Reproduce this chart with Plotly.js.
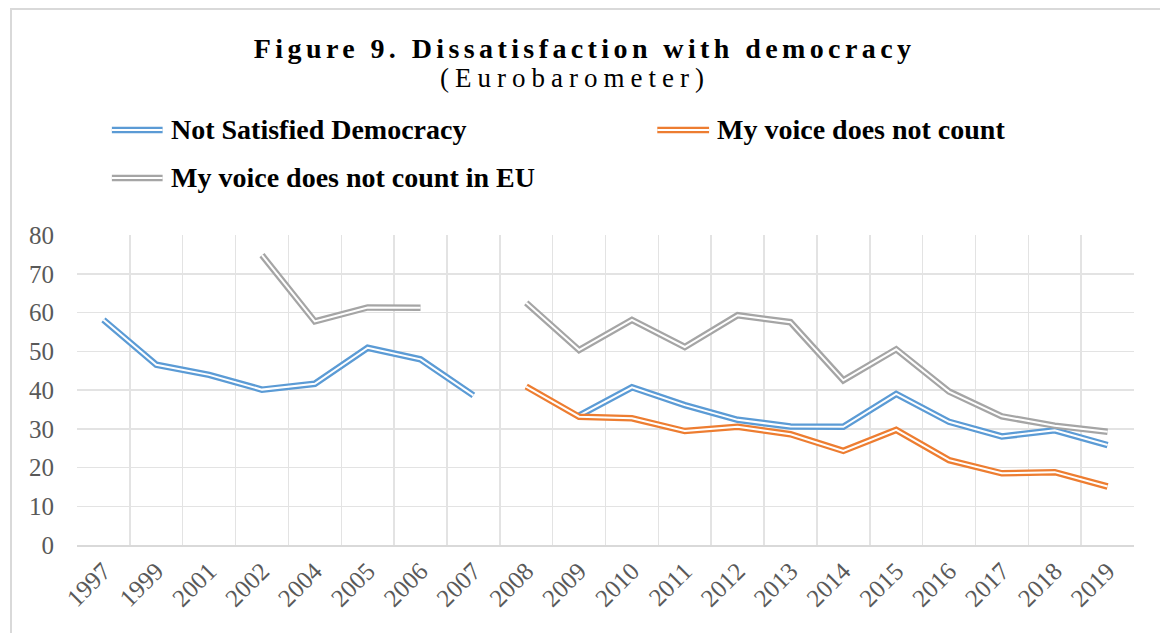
<!DOCTYPE html>
<html>
<head>
<meta charset="utf-8">
<script src="https://cdn.plot.ly/plotly-3.0.1.min.js"></script>
<style>
  html, body { margin: 0; padding: 0; background: #fff; }
  #wrap { position: relative; width: 1160px; height: 633px; overflow: hidden; }
  #frame { position: absolute; left: 10px; top: 8px; width: 1200px; height: 700px;
           border-left: 2px solid #d9d9d9; border-top: 2px solid #d9d9d9; pointer-events: none; z-index: 5; }
  #chart { position: absolute; left: 0; top: 0; width: 1160px; height: 633px; }
  .gtitle { letter-spacing: 4.4px; }
  .annotation[data-index="3"] text { letter-spacing: 6px; }
</style>
</head>
<body>
<div id="wrap">
  <div id="chart"></div>
  <div id="frame"></div>
</div>
<script>
// ---- data ----
const years = ['1997','1999','2001','2002','2004','2005','2006','2007','2008','2009',
               '2010','2011','2012','2013','2014','2015','2016','2017','2018','2019'];
const notSatisfied = [58.1, 46.5, 43.9, 40.1, 41.6, 50.9, 47.9, 38.6, null, 33.4,
                      40.7, 36.1, 32.3, 30.6, 30.5, 39.0, 31.8, 28.0, 29.6, 25.8];
const voiceNotCount = [null, null, null, null, null, null, null, null, 40.9, 33.1,
                       32.7, 29.4, 30.5, 28.6, 24.3, 29.7, 21.9, 18.5, 18.8, 15.1];
const voiceNotCountEU = [null, null, null, 74.8, 57.7, 61.3, 61.2, null, 62.5, 50.3,
                         58.1, 51.1, 59.3, 57.5, 42.5, 50.5, 39.6, 33.2, 30.8, 29.2];
const seriesNames = ['Not Satisfied Democracy', 'My voice does not count', 'My voice does not count in EU'];
const seriesColors = ['#5B9BD5', '#ED7D31', '#A5A5A5'];
const seriesValues = [notSatisfied, voiceNotCount, voiceNotCountEU];
const titleText = 'Figure 9. Dissatisfaction with democracy';
const subtitleText = '(Eurobarometer)';

const FONT = 'Liberation Serif, Times New Roman, serif';

// ---- traces: thick coloured line + thin white core = double line ----
const traces = [];
seriesValues.forEach((vals, i) => {
  traces.push({
    x: years, y: vals, type: 'scatter', mode: 'lines', name: seriesNames[i],
    line: { color: seriesColors[i], width: 6.5 }, connectgaps: false,
    showlegend: false, hoverinfo: 'skip'
  });
  traces.push({
    x: years, y: vals, type: 'scatter', mode: 'lines', name: seriesNames[i],
    line: { color: '#ffffff', width: 2 }, connectgaps: false,
    showlegend: false, hoverinfo: 'skip'
  });
});

// ---- manual legend (double-line icons) ----
const legendPos = [
  { x0: 0.033, x1: 0.081, tx: 0.087, y: 1.339 },
  { x0: 0.549, x1: 0.598, tx: 0.604, y: 1.339 },
  { x0: 0.033, x1: 0.081, tx: 0.087, y: 1.184 }
];
const shapes = [];
const annotations = [];
legendPos.forEach((p, i) => {
  shapes.push({ type: 'line', xref: 'paper', yref: 'paper', x0: p.x0, x1: p.x1, y0: p.y, y1: p.y,
                line: { color: seriesColors[i], width: 6.5 } });
  shapes.push({ type: 'line', xref: 'paper', yref: 'paper', x0: p.x0, x1: p.x1, y0: p.y, y1: p.y,
                line: { color: '#ffffff', width: 2 } });
  annotations.push({ xref: 'paper', yref: 'paper', x: p.tx, y: p.y, xanchor: 'left', yanchor: 'middle',
                     showarrow: false, text: '<b>' + seriesNames[i] + '</b>',
                     font: { family: FONT, size: 28, color: '#000000' } });
});
// subtitle
annotations.push({ xref: 'paper', yref: 'paper', x: 0.471, y: 1.508, xanchor: 'center', yanchor: 'middle',
                   showarrow: false, text: subtitleText,
                   font: { family: FONT, size: 27, color: '#000000' } });

const layout = {
  width: 1160, height: 633,
  margin: { l: 77, r: 26, t: 235, b: 88 },
  paper_bgcolor: '#ffffff', plot_bgcolor: '#ffffff',
  showlegend: false,
  title: {
    text: '<b>' + titleText + '</b>',
    font: { family: FONT, size: 28, color: '#000000' },
    x: 0.504, xref: 'container', xanchor: 'center',
    y: 0.924, yref: 'container', yanchor: 'middle'
  },
  xaxis: {
    type: 'category', categoryorder: 'array', categoryarray: years,
    range: [-0.5, 19.5], tickson: 'boundaries', ticks: '',
    showgrid: true, gridcolor: '#e3e3e3', gridwidth: 1.5,
    showline: true, linecolor: '#d9d9d9', linewidth: 1.5,
    tickangle: -45, tickfont: { family: FONT, size: 25, color: '#595959' },
    zeroline: false, fixedrange: true
  },
  yaxis: {
    range: [0, 80], dtick: 10, tick0: 0, ticks: '',
    showgrid: true, gridcolor: '#e3e3e3', gridwidth: 1.5,
    zeroline: false, showline: false,
    ticklabelstandoff: 22,
    tickfont: { family: FONT, size: 25, color: '#595959' }, fixedrange: true
  },
  shapes: shapes,
  annotations: annotations
};

Plotly.newPlot('chart', traces, layout, { displayModeBar: false, staticPlot: true });
</script>
</body>
</html>
